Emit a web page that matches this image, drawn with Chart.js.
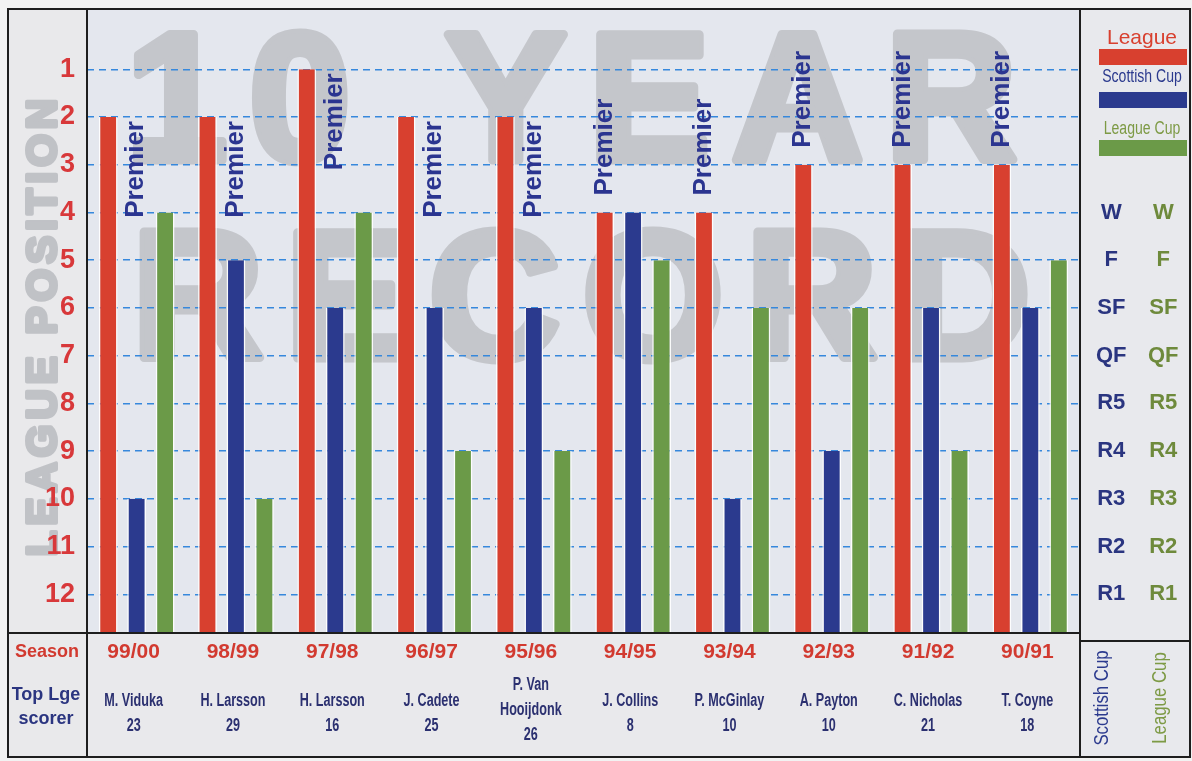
<!DOCTYPE html>
<html>
<head>
<meta charset="utf-8">
<script src="https://cdn.jsdelivr.net/npm/chart.js@4.4.1/dist/chart.umd.min.js"></script>
<style>
  html, body { margin: 0; padding: 0; background: #f2f2f2; }
  canvas { display: block; }
</style>
</head>
<body>
<canvas id="record" width="1192" height="761"></canvas>
<script>
// ---- data ----
const seasons = ['99/00', '98/99', '97/98', '96/97', '95/96', '94/95', '93/94', '92/93', '91/92', '90/91'];
const leaguePosition = [2, 2, 1, 2, 2, 4, 4, 3, 3, 3];
// cup rounds on the same scale: W=4, F=5, SF=6, QF=7, R5=8, R4=9, R3=10, R2=11, R1=12
const scottishCup = [10, 5, 6, 6, 6, 4, 10, 9, 6, 6];
const leagueCup = [4, 10, 4, 9, 9, 5, 6, 6, 9, 5];
const divisions = ['Premier', 'Premier', 'Premier', 'Premier', 'Premier', 'Premier', 'Premier', 'Premier', 'Premier', 'Premier'];
const scorers = [['M. Viduka'], ['H. Larsson'], ['H. Larsson'], ['J. Cadete'], ['P. Van', 'Hooijdonk'],
  ['J. Collins'], ['P. McGinlay'], ['A. Payton'], ['C. Nicholas'], ['T. Coyne']];
const goals = [23, 29, 16, 25, 26, 8, 10, 10, 21, 18];
const positionTicks = [1, 2, 3, 4, 5, 6, 7, 8, 9, 10, 11, 12];
const roundTicks = [4, 5, 6, 7, 8, 9, 10, 11, 12];
const roundLabels = ['W', 'F', 'SF', 'QF', 'R5', 'R4', 'R3', 'R2', 'R1'];

const RED = '#d8402f', BLUE = '#2b3a8e', GREEN = '#6b9a48';
const SANS = "'Liberation Sans', Arial, sans-serif";

// text drawn squeezed sideways, like the narrow face in the print
function narrow(ctx, txt, x, y, sx, rotate, align) {
  ctx.save();
  ctx.translate(x, y);
  if (rotate) ctx.rotate(-Math.PI / 2);
  ctx.scale(sx, 1);
  ctx.textAlign = align || 'center';
  ctx.textBaseline = 'middle';
  ctx.fillText(txt, 0, 0);
  ctx.restore();
}

function vText(ctx, txt, x, y, align, stroke) {
  ctx.save();
  ctx.translate(x, y);
  ctx.rotate(-Math.PI / 2);
  ctx.textAlign = align;
  ctx.textBaseline = 'middle';
  if (stroke) ctx.strokeText(txt, 0, 0);
  ctx.fillText(txt, 0, 0);
  ctx.restore();
}

const decor = {
  id: 'decor',
  beforeDraw(chart) {
    const { ctx, chartArea: a } = chart;
    ctx.save();
    ctx.fillStyle = '#f2f2f2';
    ctx.fillRect(0, 0, chart.width, chart.height);
    ctx.fillStyle = '#e9e9eb';
    ctx.fillRect(8, 9, a.left - 8, 748);
    ctx.fillStyle = '#e4e7ee';
    ctx.fillRect(a.left, 9, a.right - a.left, a.bottom - 9);
    ctx.fillStyle = '#e9e9ec';
    ctx.fillRect(a.left, a.bottom, a.right - a.left, 757 - a.bottom);
    ctx.fillStyle = '#e8e9ed';
    ctx.fillRect(a.right, 9, 1190 - a.right, 748);

    // watermark, heavy grey letters behind the bars
    ctx.fillStyle = '#c4c6cb';
    ctx.strokeStyle = '#c4c6cb';
    ctx.lineJoin = 'round';
    ctx.lineWidth = 9;
    ctx.font = 'bold 182px ' + SANS;
    ctx.letterSpacing = '22px';
    ctx.textAlign = 'left';
    ctx.textBaseline = 'alphabetic';
    ctx.strokeText('10 YEAR', 126, 160);
    ctx.fillText('10 YEAR', 126, 160);
    ctx.strokeText('RECORD', 132, 358);
    ctx.fillText('RECORD', 132, 358);

    // side title
    ctx.fillStyle = '#c0c2c6';
    ctx.strokeStyle = '#c0c2c6';
    ctx.lineWidth = 4;
    ctx.font = 'bold 42px ' + SANS;
    ctx.letterSpacing = '5px';
    vText(ctx, 'LEAGUE POSITION', 44, 325, 'center', true);
    ctx.letterSpacing = '0px';
    ctx.restore();
  },
  afterDatasetsDraw(chart) {
    const { ctx } = chart;
    const red = chart.getDatasetMeta(0).data;
    ctx.save();
    ctx.fillStyle = '#2b3590';
    ctx.font = 'bold 26px ' + SANS;
    red.forEach((bar, i) => {
      if (leaguePosition[i] >= 3) {
        vText(ctx, divisions[i], bar.x, bar.y - 17, 'left');
      } else {
        vText(ctx, divisions[i], bar.x + 28, bar.y + 4, 'right');
      }
    });
    ctx.restore();
  },
  afterDraw(chart) {
    const { ctx, chartArea: a } = chart;
    const x = chart.scales.x;
    ctx.save();
    // frame
    ctx.strokeStyle = '#1e1e1e';
    ctx.lineWidth = 2;
    ctx.strokeRect(8, 9, 1182, 748);
    ctx.beginPath();
    ctx.moveTo(a.left, 9); ctx.lineTo(a.left, 757);
    ctx.moveTo(a.right, 9); ctx.lineTo(a.right, 757);
    ctx.moveTo(8, a.bottom + 1); ctx.lineTo(a.right, a.bottom + 1);
    ctx.moveTo(a.right, 641); ctx.lineTo(1190, 641);
    ctx.stroke();

    // table
    ctx.textAlign = 'center';
    ctx.textBaseline = 'middle';
    ctx.fillStyle = '#d23a30';
    ctx.font = 'bold 18px ' + SANS;
    ctx.fillText('Season', 47, 652);
    ctx.fillStyle = '#2b3580';
    ctx.fillText('Top Lge', 46, 695);
    ctx.fillText('scorer', 46, 719);
    seasons.forEach((s, i) => {
      const cx = x.getPixelForValue(i) - 3;
      ctx.fillStyle = '#d23a30';
      ctx.font = 'bold 21px ' + SANS;
      ctx.fillText(s, cx, 652);
      ctx.fillStyle = '#2b3070';
      ctx.font = 'bold 18px ' + SANS;
      const lines = scorers[i].concat(String(goals[i]));
      const y0 = lines.length > 2 ? 685 : 701;
      lines.forEach((ln, k) => narrow(ctx, ln, cx, y0 + k * 25, 0.7));
    });

    // legend panel
    const lx = 1142;
    ctx.font = '21px ' + SANS;
    ctx.fillStyle = RED;
    ctx.fillText(chart.data.datasets[0].label, lx, 38);
    ctx.fillRect(1099, 49, 88, 16);
    ctx.font = '18px ' + SANS;
    ctx.fillStyle = BLUE;
    narrow(ctx, chart.data.datasets[1].label, lx, 77, 0.78);
    ctx.fillRect(1099, 92, 88, 16);
    ctx.fillStyle = '#7d9a45';
    narrow(ctx, chart.data.datasets[2].label, lx, 129, 0.78);
    ctx.fillStyle = GREEN;
    ctx.fillRect(1099, 140, 88, 16);

    ctx.font = '21px ' + SANS;
    ctx.fillStyle = BLUE;
    narrow(ctx, chart.data.datasets[1].label, 1102, 698, 0.8, true);
    ctx.fillStyle = '#7d9a45';
    narrow(ctx, chart.data.datasets[2].label, 1160, 698, 0.8, true);
    ctx.restore();
  }
};

const barStyle = {
  base: 12.79,
  borderColor: 'rgba(255,255,255,0.9)',
  borderWidth: { left: 1.5, right: 1.5, top: 0, bottom: 0 },
  borderSkipped: false,
  categoryPercentage: 0.86,
  barPercentage: 0.66
};

const roundAxis = (weight, color, pad) => ({
  position: 'right',
  weight: weight,
  reverse: true,
  min: 0.16,
  max: 12.79,
  afterBuildTicks: s => { s.ticks = roundTicks.map(v => ({ value: v })); },
  afterFit: s => { s.width = 56; },
  grid: { display: false, drawTicks: false },
  border: { display: false },
  ticks: {
    padding: pad,
    crossAlign: 'center',
    color: color,
    font: { family: SANS, size: 22, weight: 'bold' },
    callback: v => roundLabels[roundTicks.indexOf(v)]
  }
});

new Chart(document.getElementById('record'), {
  type: 'bar',
  data: {
    labels: seasons,
    datasets: [
      Object.assign({ label: 'League', data: leaguePosition, backgroundColor: RED }, barStyle),
      Object.assign({ label: 'Scottish Cup', data: scottishCup, backgroundColor: BLUE }, barStyle),
      Object.assign({ label: 'League Cup', data: leagueCup, backgroundColor: GREEN }, barStyle)
    ]
  },
  options: {
    responsive: false,
    animation: false,
    events: [],
    layout: { padding: { left: 8, top: 12, right: 0, bottom: 129 } },
    plugins: { legend: { display: false }, tooltip: { enabled: false } },
    scales: {
      x: { display: false },
      y: {
        reverse: true,
        min: 0.16,
        max: 12.79,
        afterBuildTicks: s => { s.ticks = positionTicks.map(v => ({ value: v })); },
        afterFit: s => { s.width = 79; },
        grid: { color: '#3688dc', lineWidth: 1.5, drawTicks: false },
        border: { display: false, dash: [7, 5] },
        ticks: {
          padding: 12,
          color: '#d8383a',
          font: { family: SANS, size: 27, weight: 'bold' }
        }
      },
      y2: roundAxis(1, '#2a3580', 16),
      y3: roundAxis(2, '#6e8a3c', 12)
    }
  },
  plugins: [decor]
});
</script>
</body>
</html>
